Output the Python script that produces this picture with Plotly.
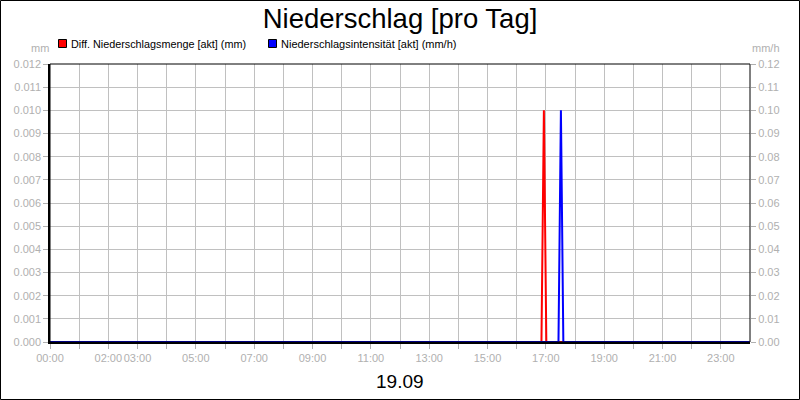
import plotly.graph_objects as go

# ---- data ----
day = "2024-09-19"
red_times = ["00:00", "16:51", "16:56", "17:01", "23:59"]
red_values = [0.0, 0.0, 0.010, 0.0, 0.0]          # mm
blue_times = ["00:00", "17:26", "17:31", "17:36", "23:59"]
blue_values = [0.0, 0.0, 0.10, 0.0, 0.0]          # mm/h

hour_ticks = [f"{h:02d}:00" for h in range(24)]
labeled_hours = ["00:00", "02:00", "03:00", "05:00", "07:00", "09:00", "11:00",
                 "13:00", "15:00", "17:00", "19:00", "21:00", "23:00"]
left_ticks = [i / 1000 for i in range(13)]
right_ticks = [i / 100 for i in range(13)]

red_name = "Diff. Niederschlagsmenge [akt] (mm)"
blue_name = "Niederschlagsintensität [akt] (mm/h)"
title_text = "Niederschlag [pro Tag]"
date_label = "19.09"

# ---- layout helpers ----
L, R, T, B = 50, 50, 64, 58
W, H = 800, 400
PW, PH = W - L - R, H - T - B
def px(x):
    return (x - L) / PW
def py(y):
    return (H - B - y) / PH

FONT = "Liberation Sans, Arial, sans-serif"
GRID = "#c0c0c0"
TICKC = "#b0b0b0"

fig = go.Figure()
fig.add_trace(go.Scatter(
    x=[f"{day} {t}" for t in blue_times], y=blue_values, yaxis="y2",
    mode="lines", line=dict(color="#0000ff", width=2), showlegend=False))
fig.add_trace(go.Scatter(
    x=[f"{day} {t}" for t in red_times], y=red_values, yaxis="y",
    mode="lines", line=dict(color="#ff0000", width=2), showlegend=False))

shapes = [
    # outer border
    dict(type="rect", xref="paper", yref="paper",
         x0=px(0.5), x1=px(799.5), y0=py(399.5), y1=py(0.5),
         line=dict(color="black", width=1), layer="above"),
    # plot border
    dict(type="rect", xref="paper", yref="paper", x0=0, x1=1, y0=0, y1=1,
         line=dict(color="black", width=1), layer="above"),
    # legend squares
    dict(type="rect", xref="paper", yref="paper",
         x0=px(58.5), x1=px(66.5), y0=py(47.5), y1=py(39.5),
         fillcolor="#ff0000", line=dict(color="black", width=1)),
    dict(type="rect", xref="paper", yref="paper",
         x0=px(268.5), x1=px(276.5), y0=py(47.5), y1=py(39.5),
         fillcolor="#0000ff", line=dict(color="black", width=1)),
]

annotations = [
    dict(text=red_name, xref="paper", yref="paper", x=px(69), y=py(44),
         xanchor="left", yanchor="middle", showarrow=False,
         font=dict(family=FONT, size=10.8, color="black")),
    dict(text=blue_name, xref="paper", yref="paper", x=px(279), y=py(44),
         xanchor="left", yanchor="middle", showarrow=False,
         font=dict(family=FONT, size=11, color="black")),
    dict(text="mm", xref="paper", yref="paper", x=px(40), y=py(48),
         xanchor="center", yanchor="middle", showarrow=False,
         font=dict(family=FONT, size=11, color=TICKC)),
    dict(text="mm/h", xref="paper", yref="paper", x=px(766), y=py(48),
         xanchor="center", yanchor="middle", showarrow=False,
         font=dict(family=FONT, size=11, color=TICKC)),
    dict(text=date_label, xref="paper", yref="paper", x=0.5, y=py(381),
         xanchor="center", yanchor="middle", showarrow=False,
         font=dict(family=FONT, size=19, color="black")),
]

fig.update_layout(
    width=W, height=H,
    margin=dict(l=L, r=R, t=T, b=B, autoexpand=False),
    paper_bgcolor="white", plot_bgcolor="white",
    title=dict(text=title_text, x=0.5, xanchor="center", y=1 - 18 / H,
               yanchor="middle", font=dict(family=FONT, size=27.5, color="black")),
    showlegend=False,
    xaxis=dict(
        type="date", range=[f"{day} 00:00", f"{day} 23:59:59"],
        tickvals=[f"{day} {t}" for t in hour_ticks],
        ticktext=[t if t in labeled_hours else "" for t in hour_ticks],
        tickangle=0,
        showgrid=True, gridcolor=GRID, gridwidth=1,
        ticks="outside", ticklen=5, tickcolor=TICKC,
        tickfont=dict(family=FONT, size=11, color=TICKC),
        showline=True, linecolor="black", linewidth=1.5, zeroline=False,
    ),
    yaxis=dict(
        range=[0, 0.012], tickvals=left_ticks, tickformat=".3f",
        showgrid=True, gridcolor=GRID, gridwidth=1,
        ticks="outside", ticklen=5, tickcolor=TICKC,
        tickfont=dict(family=FONT, size=11, color=TICKC),
        showline=True, linecolor="black", linewidth=1.5, zeroline=False,
    ),
    yaxis2=dict(
        range=[0, 0.12], tickvals=right_ticks, tickformat=".2f",
        overlaying="y", side="right", showgrid=False,
        ticks="outside", ticklen=5, tickcolor=TICKC,
        tickfont=dict(family=FONT, size=11, color=TICKC),
        showline=False, zeroline=False,
    ),
    shapes=shapes,
    annotations=annotations,
)

fig.write_html(
    "out.html",
    config={"displayModeBar": False},
    post_script="document.body.style.margin='0';document.body.style.padding='0';",
)
